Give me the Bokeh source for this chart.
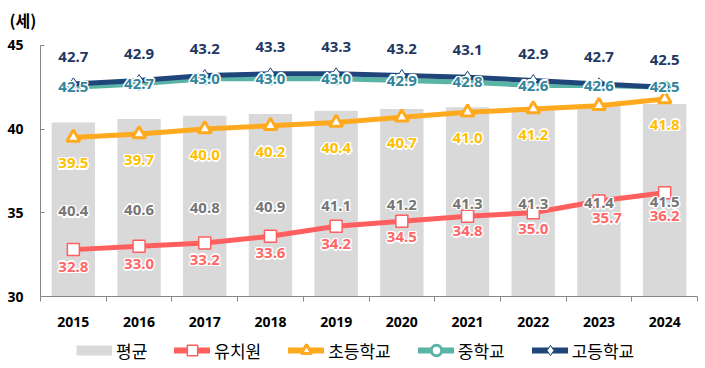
from bokeh.plotting import figure
from bokeh.models import Range1d, FixedTicker, Legend, LegendItem, ColumnDataSource
from bokeh.core.properties import value
from bokeh.layouts import column
from bokeh.embed import file_html
from bokeh.resources import INLINE

years = [2015, 2016, 2017, 2018, 2019, 2020, 2021, 2022, 2023, 2024]
avg = [40.4, 40.6, 40.8, 40.9, 41.1, 41.2, 41.3, 41.3, 41.4, 41.5]
kinder = [32.8, 33.0, 33.2, 33.6, 34.2, 34.5, 34.8, 35.0, 35.7, 36.2]
elem = [39.5, 39.7, 40.0, 40.2, 40.4, 40.7, 41.0, 41.2, 41.4, 41.8]
middle = [42.5, 42.7, 43.0, 43.0, 43.0, 42.9, 42.8, 42.6, 42.6, 42.5]
high = [42.7, 42.9, 43.2, 43.3, 43.3, 43.2, 43.1, 42.9, 42.7, 42.5]
y_ticks = [30, 35, 40, 45]
unit_label = "(세)"
series_names = ["평균", "유치원", "초등학교", "중학교", "고등학교"]

FONT = "Noto Sans"
KFONT = "Noto Sans CJK KR"
Y0 = 30

# label nudges (layout only, pixels)
k_dx = [0, 0, 0, 0, 0, 0, 0, 0, 8, 0]
k_dy = [17, 18, 17, 17, 18, 16, 15, 16, 17, 23]

HALO = [(-1.5, 0), (1.5, 0), (0, -1.5), (0, 1.5), (-1.1, -1.1), (1.1, -1.1), (-1.1, 1.1), (1.1, 1.1)]

data = dict(
    x=years, avg=avg, kinder=kinder, elem=elem, middle=middle, high=high,
    avg_t=[f"{v:.1f}" for v in avg],
    kinder_t=[f"{v:.1f}" for v in kinder],
    elem_t=[f"{v:.1f}" if y != 2023 else "" for v, y in zip(elem, years)],
    middle_t=[f"{v:.1f}" for v in middle],
    high_t=[f"{v:.1f}" for v in high],
    avg_mid=[(Y0 + v) / 2 for v in avg],          # Excel "center" label position
    k_dx=k_dx, k_dy=k_dy,
)
for i, (dx, dy) in enumerate(HALO):
    data[f"k_dx{i}"] = [v + dx for v in k_dx]
    data[f"k_dy{i}"] = [v + dy for v in k_dy]
src = ColumnDataSource(data)

p = figure(width=703, height=334, x_range=Range1d(2014.5, 2024.5), y_range=Range1d(Y0, 45.53),
           output_backend="svg", toolbar_location=None, title=unit_label,
           min_border_left=40, min_border_right=6, min_border_top=32, min_border_bottom=38)
p.xgrid.visible = False
p.ygrid.visible = False
p.outline_line_color = None
p.background_fill_color = "white"
p.title.align = "left"
p.title.offset = -31
p.title.text_font = KFONT
p.title.text_font_size = "16px"
p.title.text_font_style = "bold"
p.title.text_color = "black"
p.title.standoff = 10

# axes
ya = p.yaxis[0]
ya.ticker = FixedTicker(ticks=y_ticks)
ya.bounds = (30, 45)
ya.axis_line_color = "#868686"
ya.major_tick_line_color = "#868686"
ya.major_tick_in = 4
ya.major_tick_out = 0
ya.minor_tick_line_color = None
ya.major_label_text_font = FONT
ya.major_label_text_font_style = "bold"
ya.major_label_text_font_size = "14px"
ya.major_label_text_color = "black"
ya.major_label_standoff = 17

xa = p.xaxis[0]
xa.ticker = FixedTicker(ticks=years, minor_ticks=[y - 0.5 for y in years] + [years[-1] + 0.5])
xa.axis_line_color = "#868686"
xa.major_tick_in = 0
xa.major_tick_out = 0
xa.minor_tick_in = 0
xa.minor_tick_out = 5
xa.minor_tick_line_color = "#868686"
xa.major_label_text_font = FONT
xa.major_label_text_font_style = "bold"
xa.major_label_text_font_size = "14px"
xa.major_label_text_color = "black"
xa.major_label_standoff = 15

# styles
BAR = dict(fill_color="#D9D9D9", line_color=None)
LW = 5
K_L = dict(line_color="#FF5F5F", line_width=LW, line_cap="round")
K_M = dict(marker="square", size=12, fill_color="white", line_color="#FF5F5F", line_width=1.5)
E_L = dict(line_color="#FFA91F", line_width=LW, line_cap="round")
E_M = dict(marker="triangle", size=13, fill_color="white", line_color="#FFA91F", line_width=3)
M_L = dict(line_color="#5AB4A5", line_width=LW, line_cap="round")
M_M = dict(marker="circle", size=10, fill_color="white", line_color="#5AB4A5", line_width=3)
H_L = dict(line_color="#1F467A", line_width=LW, line_cap="round")
H_M = dict(marker="diamond", size=12, fill_color="white", line_color="#1F467A", line_width=1)

p.vbar(x="x", top="avg", bottom=Y0, width=0.66, source=src, **BAR)
p.line("x", "kinder", source=src, **K_L)
p.scatter("x", "kinder", source=src, **K_M)
p.line("x", "elem", source=src, **E_L)
p.scatter("x", "elem", source=src, **E_M)
p.line("x", "middle", source=src, **M_L)
p.scatter("x", "middle", source=src, **M_M)
p.line("x", "high", source=src, **H_L)
p.scatter("x", "high", source=src, **H_M)

TXT = dict(source=src, text_font=value(FONT), text_font_style="bold", text_font_size="15px",
           text_align="center", text_baseline="middle")


def labels(ycol, tcol, color, yoff=0):
    for dx, dy in HALO:
        p.text(x="x", y=ycol, text=tcol, text_color="white", x_offset=dx, y_offset=yoff + dy, **TXT)
    p.text(x="x", y=ycol, text=tcol, text_color=color, y_offset=yoff, **TXT)


labels("avg_mid", "avg_t", "#767676", yoff=2)
labels("elem", "elem_t", "#FFC000", yoff=26)
labels("high", "high_t", "#1F3864", yoff=-27)

for i in range(len(HALO)):
    p.text(x="x", y="kinder", text="kinder_t", text_color="white",
           x_offset=f"k_dx{i}", y_offset=f"k_dy{i}", **TXT)
p.text(x="x", y="kinder", text="kinder_t", text_color="#FF6666", x_offset="k_dx", y_offset="k_dy", **TXT)

labels("middle", "middle_t", "#31859C")

# legend figure
p2 = figure(width=703, height=33, output_backend="svg", toolbar_location=None,
            x_axis_location=None, y_axis_location=None,
            x_range=Range1d(10, 11), y_range=Range1d(10, 11),
            min_border_left=0, min_border_right=0, min_border_top=0, min_border_bottom=0)
p2.xgrid.visible = False
p2.ygrid.visible = False
p2.outline_line_color = None
dummy = ColumnDataSource(dict(x=[0], y=[0]))
LEG_LW = 6
lb = p2.line("x", "y", source=dummy, line_color="#D9D9D9", line_width=10, line_cap="butt")
r_k = [p2.line("x", "y", source=dummy, **{**K_L, "line_width": LEG_LW}), p2.scatter("x", "y", source=dummy, **K_M)]
r_e = [p2.line("x", "y", source=dummy, **{**E_L, "line_width": LEG_LW}), p2.scatter("x", "y", source=dummy, **E_M)]
r_m = [p2.line("x", "y", source=dummy, **{**M_L, "line_width": LEG_LW}), p2.scatter("x", "y", source=dummy, **M_M)]
r_h = [p2.line("x", "y", source=dummy, **{**H_L, "line_width": LEG_LW}), p2.scatter("x", "y", source=dummy, **H_M)]

legend = Legend(items=[
    LegendItem(label=series_names[0], renderers=[lb]),
    LegendItem(label=series_names[1], renderers=r_k),
    LegendItem(label=series_names[2], renderers=r_e),
    LegendItem(label=series_names[3], renderers=r_m),
    LegendItem(label=series_names[4], renderers=r_h),
], orientation="horizontal", location=(36, 4), glyph_width=36, glyph_height=26,
    label_standoff=4, spacing=27, padding=0, margin=0, border_line_color=None,
    background_fill_alpha=0, label_text_font=KFONT, label_text_font_size="17px",
    label_text_color="black", label_height=17, label_text_baseline="middle")
p2.add_layout(legend)

open("out.html", "w").write(file_html(column(p, p2), INLINE))
